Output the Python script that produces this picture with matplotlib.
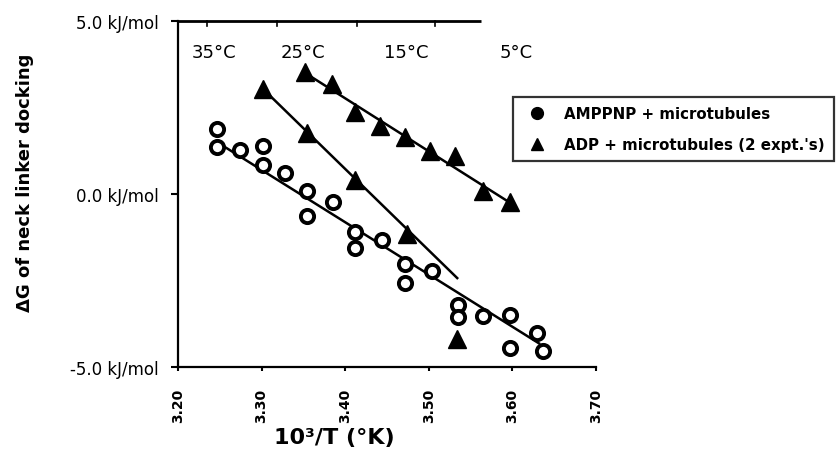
import matplotlib
matplotlib.use("Agg")
import matplotlib.pyplot as plt
from matplotlib.lines import Line2D

# ---- data ----
amppnp_x = [3.247, 3.247, 3.274, 3.302, 3.302, 3.328, 3.354, 3.385, 3.354, 3.412, 3.412,
            3.444, 3.472, 3.472, 3.504, 3.535, 3.535, 3.565, 3.597, 3.597, 3.629, 3.637]
amppnp_y = [1.88, 1.36, 1.27, 1.39, 0.84, 0.61, 0.09, -0.23, -0.64, -1.10, -1.56,
            -1.33, -2.02, -2.57, -2.23, -3.21, -3.56, -3.53, -3.50, -4.45, -4.02, -4.54]
amppnp_fit_x = [3.250, 3.632]
amppnp_fit_y = [1.45, -4.32]

adp_a_x = [3.352, 3.384, 3.412, 3.442, 3.472, 3.501, 3.531, 3.565, 3.597]
adp_a_y = [3.53, 3.18, 2.37, 1.97, 1.65, 1.24, 1.10, 0.09, -0.23]
adp_a_fit_x = [3.352, 3.597]
adp_a_fit_y = [3.50, -0.25]

adp_b_x = [3.302, 3.354, 3.412, 3.474, 3.534]
adp_b_y = [3.03, 1.76, 0.40, -1.16, -4.19]
adp_b_fit_x = [3.302, 3.534]
adp_b_fit_y = [3.03, -2.43]

x_ticks = [3.20, 3.30, 3.40, 3.50, 3.60, 3.70]
x_tick_labels = ["3.20", "3.30", "3.40", "3.50", "3.60", "3.70"]
y_ticks = [-5.0, 0.0, 5.0]
y_tick_labels = ["-5.0 kJ/mol", "0.0 kJ/mol", "5.0 kJ/mol"]

temp_labels = ["35°C", "25°C", "15°C", "5°C"]
temp_label_x = [3.243, 3.350, 3.473, 3.604]
top_axis_ticks = [3.235, 3.318, 3.414, 3.507]
top_axis_end = 3.5625

legend_labels = ["AMPPNP + microtubules", "ADP + microtubules (2 expt.'s)"]

# ---- figure ----
plt.rcParams['font.family'] = ['DejaVu Sans']
fig = plt.figure(figsize=(8.36, 4.52), dpi=100)
ax = fig.add_axes([178/836, 1-368/452, 418/836, 346/452])
ax.set_xlim(3.20, 3.70)
ax.set_ylim(-5.0, 5.0)

# fit lines
for fx, fy in [(amppnp_fit_x, amppnp_fit_y), (adp_a_fit_x, adp_a_fit_y), (adp_b_fit_x, adp_b_fit_y)]:
    ax.plot(fx, fy, color='black', lw=1.8, zorder=2)

# markers
ax.plot(amppnp_x, amppnp_y, 'o', ms=9.5, mfc='white', mec='black', mew=2.8, ls='none', zorder=3)
ax.plot(adp_a_x, adp_a_y, '^', ms=13, color='black', ls='none', zorder=3)
ax.plot(adp_b_x, adp_b_y, '^', ms=13, color='black', ls='none', zorder=3)

# spines
for s in ['top', 'right']:
    ax.spines[s].set_visible(False)
for s in ['left', 'bottom']:
    ax.spines[s].set_linewidth(1.6)

ax.set_xticks(x_ticks)
ax.set_xticklabels(x_tick_labels, rotation=90, fontsize=10, fontweight='bold')
ax.set_yticks(y_ticks)
ax.set_yticklabels(y_tick_labels, fontsize=12)
ax.tick_params(axis='y', direction='out', length=5, width=1.5, pad=9)
ax.tick_params(axis='x', direction='out', length=3, width=1.5, pad=12)

# partial top axis with its ticks
ax.plot([3.20, top_axis_end], [5.0, 5.0], color='black', lw=2, clip_on=False, solid_capstyle='butt')
for tx in top_axis_ticks:
    ax.plot([tx, tx], [5.0, 4.85], color='black', lw=1.2, clip_on=False)

# temperature labels
for lbl, tx in zip(temp_labels, temp_label_x):
    ax.text(tx, 4.10, lbl, ha='center', va='center', fontsize=13)

# axis labels
fig.text(25/836, 1-183/452, "ΔG of neck linker docking", rotation=90,
         ha='center', va='center', fontsize=13, fontweight='bold')
fig.text(334/836, 1-438/452, "10³/T (°K)", ha='center', va='center',
         fontsize=16, fontweight='bold')

# legend
handles = [Line2D([], [], marker='o', color='black', ls='none', ms=8.5),
           Line2D([], [], marker='^', color='black', ls='none', ms=8.5)]
leg = fig.legend(handles, legend_labels, loc='upper left',
                 bbox_to_anchor=(513/836, 1-98/452), bbox_transform=fig.transFigure,
                 borderaxespad=0, fancybox=False, frameon=True,
                 prop={'size': 10.8, 'weight': 'bold'}, handlelength=2.0,
                 handletextpad=0.8, labelspacing=1.05, borderpad=0.6)
leg.get_frame().set_edgecolor('black')
leg.get_frame().set_linewidth(1.6)

fig.savefig("out.png", dpi=100)
